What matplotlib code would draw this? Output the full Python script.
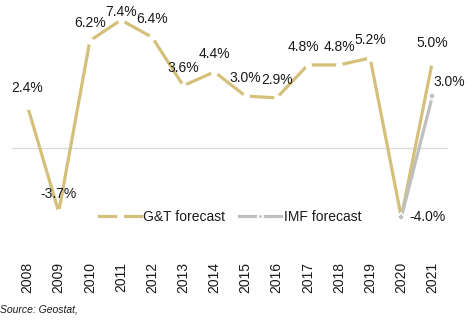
import matplotlib
matplotlib.use("Agg")
import matplotlib.pyplot as plt
from matplotlib.lines import Line2D

years = ["2008", "2009", "2010", "2011", "2012", "2013", "2014",
         "2015", "2016", "2017", "2018", "2019", "2020", "2021"]
gt_values = [2.4, -3.7, 6.2, 7.4, 6.4, 3.6, 4.4, 3.0, 2.9, 4.8, 4.8, 5.2, -4.0, 5.0]
imf_years = ["2020", "2021"]
imf_values = [-4.0, 3.0]
gt_labels = ["2.4%", "-3.7%", "6.2%", "7.4%", "6.4%", "3.6%", "4.4%",
             "3.0%", "2.9%", "4.8%", "4.8%", "5.2%", "-4.0%", "5.0%"]
imf_labels = ["", "3.0%"]

GOLD = "#D4C07A"
GRAY = "#BFBFBF"

plt.rcParams['font.family'] = ['Liberation Sans', 'DejaVu Sans']

fig = plt.figure(figsize=(4.66, 3.21), dpi=100)
ax = fig.add_axes([12/466, 1 - 255/321, 436/466, 255/321])

x = list(range(len(years)))
xi = [years.index(y) for y in imf_years]

ax.axhline(0, color="#D9D9D9", lw=0.9, zorder=1)
ax.plot(x, gt_values, color=GOLD, lw=2.3, marker='o', markersize=4,
        mfc='white', mec='white', zorder=3, solid_capstyle='butt')
ax.plot(xi, imf_values, color=GRAY, lw=2.3, marker='D', markersize=4,
        mfc=GRAY, mec='white', mew=1.2, zorder=4)

fs = 10
tc = '#1a1a1a'
for i, (v, lab) in enumerate(zip(gt_values, gt_labels)):
    if years[i] == "2020":
        ax.annotate(lab, (i, v), xytext=(6, 0), textcoords='offset points',
                    ha='left', va='center', fontsize=fs, color=tc)
    elif years[i] == "2011":
        ax.annotate(lab, (i, v), xytext=(0, 6), textcoords='offset points',
                    ha='center', va='center', fontsize=fs, color=tc)
    else:
        dx = -3 if years[i] == "2017" else 0
        ax.annotate(lab, (i, v), xytext=(dx, 13), textcoords='offset points',
                    ha='center', va='center', fontsize=fs, color=tc)
for i, v, lab in zip(xi, imf_values, imf_labels):
    if lab:
        ax.annotate(lab, (i, v), xytext=(1, 10), textcoords='offset points',
                    ha='left', va='center', fontsize=fs, color=tc)

ax.set_xlim(-0.5, len(years) - 0.5)
ax.set_ylim(-6.185, 8.555)
ax.set_xticks(x)
ax.set_xticklabels(years, rotation=90, fontsize=fs, color=tc)
ax.tick_params(axis='x', length=0, pad=5)
ax.set_yticks([])
for s in ax.spines.values():
    s.set_visible(False)

h1 = Line2D([], [], color=GOLD, lw=2.3, marker='o', markersize=4,
            mfc='white', mec='white')
h2 = Line2D([], [], color=GRAY, lw=2.3, marker='D', markersize=3,
            mfc=GRAY, mec='white', mew=1.2)
leg = ax.legend([h1, h2], ["G&T forecast", "IMF forecast"], ncol=2, frameon=False,
                loc='center', bbox_to_anchor=(0.5, 0.15), fontsize=fs,
                handlelength=3.0, handletextpad=0.2, columnspacing=1.0,
                numpoints=1)
for t in leg.get_texts():
    t.set_color(tc)

fig.text(0.0, 1 - 310/321, "Source: Geostat,", fontsize=7.5, style='italic',
         ha='left', va='center', color=tc)

fig.savefig("out.png", dpi=100)
